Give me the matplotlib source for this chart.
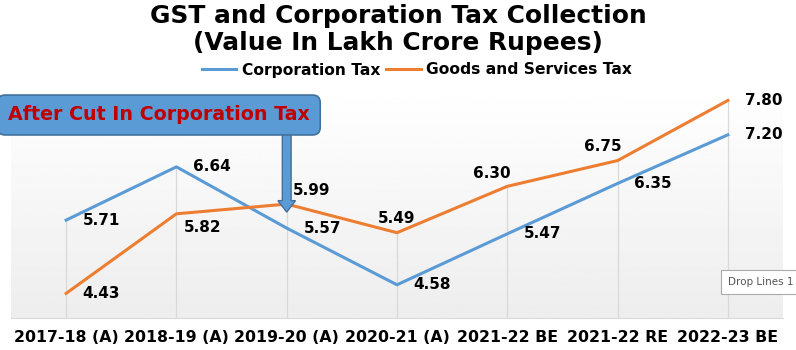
import matplotlib.pyplot as plt
import numpy as np
from matplotlib.patches import FancyArrow

# data
years = ["2017-18 (A)", "2018-19 (A)", "2019-20 (A)", "2020-21 (A)",
         "2021-22 BE", "2021-22 RE", "2022-23 BE"]
corp_tax = [5.71, 6.64, 5.57, 4.58, 5.47, 6.35, 7.20]
gst = [4.43, 5.82, 5.99, 5.49, 6.30, 6.75, 7.80]

blue = "#5B9BD5"
orange = "#ED7D31"

fig = plt.figure(figsize=(7.96, 3.5), dpi=100)
ax = fig.add_axes([11 / 796, 1 - 318 / 350, 772 / 796, 233 / 350])

x = np.arange(len(years))
ymin, ymax = 4.0, 8.07
ax.set_xlim(-0.5, len(years) - 0.5)
ax.set_ylim(ymin, ymax)

# gradient background
grad = np.linspace(1.0, 0.93, 100).reshape(-1, 1)
ax.imshow(grad, cmap="gray", vmin=0, vmax=1, aspect="auto",
          extent=[-0.5, len(years) - 0.5, ymin, ymax], zorder=0, origin="upper")

# drop lines
tops = [max(a, b) for a, b in zip(corp_tax, gst)]
ax.vlines(x, ymin, tops, color="#D9D9D9", lw=0.9, zorder=1)

ax.plot(x, corp_tax, color=blue, lw=2.2, label="Corporation Tax", zorder=3)
ax.plot(x, gst, color=orange, lw=2.2, label="Goods and Services Tax", zorder=3)

# label offsets in points (dx, dy)
corp_off = [(12, 0)] * len(years)
gst_off = [(12, 0), (5, -10), (4.5, 10), (-13.5, 10.5), (-25, 9.5), (-24.5, 10), (12, 0)]
for i in range(len(years)):
    ax.annotate(f"{corp_tax[i]:.2f}", (x[i], corp_tax[i]), xytext=corp_off[i],
                textcoords="offset points", fontsize=11, fontweight="bold",
                ha="left", va="center", zorder=5)
    ax.annotate(f"{gst[i]:.2f}", (x[i], gst[i]), xytext=gst_off[i],
                textcoords="offset points", fontsize=11, fontweight="bold",
                ha="left", va="center", zorder=5)

ax.set_xticks(x)
ax.set_xticklabels(years, fontsize=11.3, fontweight="bold")
ax.tick_params(axis="x", length=0, pad=9)
ax.set_yticks([])
for s in ["top", "left", "right"]:
    ax.spines[s].set_visible(False)
ax.spines["bottom"].set_color("#D9D9D9")

fig.text(0.5, 0.99, "GST and Corporation Tax Collection\n(Value In Lakh Crore Rupees)",
         ha="center", va="top", fontsize=17.9, fontweight="bold", linespacing=1.2)

fig.legend(loc="center", bbox_to_anchor=(417 / 796, 1 - 70 / 350), ncol=2, frameon=False,
           prop={"weight": "bold", "size": 11.2}, handlelength=2.2, columnspacing=0.4,
           handletextpad=0.35)

# callout arrow
ax.add_patch(FancyArrow(2, 4 + (318 - 134) / 57.3, 0, -(212 - 134) / 57.3,
                        width=0.08, head_width=0.16, head_length=0.2,
                        length_includes_head=True, facecolor=blue,
                        edgecolor="#41719C", lw=1, zorder=6, clip_on=False))
fig.text(8 / 796, 1 - 115 / 350, "After Cut In Corporation Tax", color="#C00000",
         fontsize=13.7, fontweight="bold", ha="left", va="center", zorder=7,
         bbox=dict(boxstyle="round,pad=0.55,rounding_size=0.4", facecolor=blue,
                   edgecolor="#41719C", lw=1.2))

# tooltip
fig.text(728 / 796, 1 - 282 / 350, "Drop Lines 1", color="#555555", fontsize=7.5,
         ha="left", va="center",
         bbox=dict(boxstyle="square,pad=0.7", facecolor="white", edgecolor="#AAAAAA", lw=0.8))

fig.savefig("out.png", dpi=100)
